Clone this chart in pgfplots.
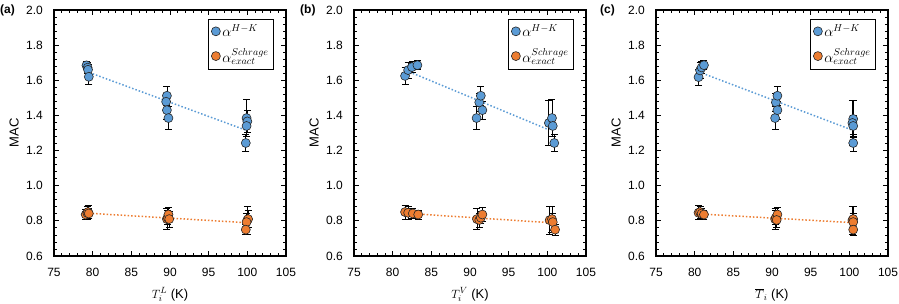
\documentclass[border=0pt]{standalone}
\usepackage{fontspec}
\setmainfont{Liberation Sans}
\usepackage{pgfplots}
\usepackage{pgfplotstable}
\pgfplotsset{compat=1.18}
\definecolor{cblue}{HTML}{5B9BD5}
\definecolor{corange}{HTML}{ED7D31}
\pgfplotsset{
  panel/.style={
    scale only axis, width=232pt, height=246pt,
    anchor=south west,
    xmin=75, xmax=105, ymin=0.6, ymax=2.0,
    xtick={75,80,...,105}, ytick={0.6,0.8,...,2.0},
    minor x tick num=4, minor y tick num=4,
    tick align=inside, xtick pos=both, ytick pos=both,
    xticklabel pos=lower, yticklabel pos=left,
    major tick length=5pt, minor tick length=3pt,
    axis line style={line width=1.4pt},
    every tick/.style={black, line width=0.8pt},
    /pgf/number format/assume math mode=true,
    yticklabel style={/pgf/number format/.cd, fixed, fixed zerofill, precision=1},
    xticklabel style={/pgf/number format/1000 sep={}},
    yticklabel shift=7pt, xticklabel shift=8pt,
    ylabel=MAC,
    ylabel style={at={(axis description cs:-0.172,0.5)}, anchor=center, rotate=0,
      font=\fontsize{13}{15}\selectfont},
    xlabel style={at={(axis description cs:0.5,-0.157)}, anchor=center,
      font=\fontsize{13}{15}\selectfont},
    legend style={at={(rel axis cs:1,1)}, anchor=north east, xshift=-12pt, yshift=-9pt,
      draw=black, line width=0.8pt, row sep=6pt, inner sep=3pt,
      font=\fontsize{14}{16}\selectfont, legend cell align=left},
  },
  pts/.style={only marks, mark=*, mark size=4.5pt,
    mark options={fill=#1, draw=black!85, line width=0.6pt},
    error bars/.cd, y dir=both, y explicit,
    error bar style={black, line width=0.8pt},
    error mark options={rotate=90, black, mark size=3.5pt, line width=0.8pt}},
  trend/.style={#1, dotted, line width=1.5pt, forget plot},
}
\begin{document}
\fontsize{12}{14.4}\selectfont
\begin{tikzpicture}
\useasboundingbox (0,0) rectangle (899pt,304pt);
% ---------------- (a)
\begin{axis}[panel, at={(54pt,48pt)}, xlabel={$T_i^{L}$ (K)}]
\addplot[trend=cblue] coordinates {(80,1.637) (99.7,1.318)};
\addplot[trend=corange] coordinates {(80,0.842) (99.7,0.790)};
\addplot[pts=cblue] table[x=x,y=y,y error=e] {
x y e
79.2 1.685 0.025
79.35 1.672 0.030
79.4 1.660 0.030
79.5 1.620 0.045
89.6 1.512 0.055
89.5 1.478 0.050
89.6 1.430 0.050
89.8 1.385 0.065
99.9 1.385 0.105
100.0 1.366 0.060
99.9 1.340 0.060
99.8 1.243 0.047
};
\addplot[pts=corange] table[x=x,y=y,y error=e] {
x y e
79.1 0.836 0.030
79.3 0.845 0.035
79.4 0.850 0.038
79.5 0.842 0.030
89.6 0.810 0.059
89.7 0.818 0.040
89.8 0.836 0.038
89.9 0.810 0.045
100.0 0.804 0.080
100.1 0.810 0.050
99.9 0.793 0.050
99.8 0.750 0.027
};
\legend{$\alpha^{H-K}$, $\alpha^{Schrage}_{exact}$}
\end{axis}
% ---------------- (b)
\begin{axis}[panel, at={(354pt,48pt)}, xlabel={$T_i^{V}$ (K)}]
\addplot[trend=cblue] coordinates {(82.6,1.640) (100.2,1.318)};
\addplot[trend=corange] coordinates {(83.5,0.838) (100.2,0.790)};
\addplot[pts=cblue] table[x=x,y=y,y error=e] {
x y e
81.6 1.625 0.050
82.0 1.658 0.045
82.5 1.675 0.030
83.2 1.686 0.025
90.85 1.385 0.065
91.2 1.474 0.050
91.4 1.512 0.055
91.6 1.430 0.050
100.2 1.357 0.130
100.6 1.385 0.105
100.7 1.340 0.060
100.9 1.243 0.047
};
\addplot[pts=corange] table[x=x,y=y,y error=e] {
x y e
81.6 0.850 0.040
82.0 0.846 0.035
82.6 0.842 0.030
83.3 0.836 0.025
90.9 0.810 0.060
91.2 0.805 0.040
91.4 0.818 0.035
91.6 0.836 0.038
100.3 0.804 0.080
100.6 0.810 0.075
100.7 0.793 0.050
101.0 0.750 0.030
};
\legend{$\alpha^{H-K}$, $\alpha^{Schrage}_{exact}$}
\end{axis}
% ---------------- (c)
\begin{axis}[panel, at={(656pt,48pt)}, xlabel={$\overline{T}_i$ (K)}]
\addplot[trend=cblue] coordinates {(81,1.640) (100.3,1.318)};
\addplot[trend=corange] coordinates {(81.2,0.838) (100.3,0.790)};
\addplot[pts=cblue] table[x=x,y=y,y error=e] {
x y e
80.5 1.618 0.045
80.7 1.656 0.045
80.9 1.673 0.035
81.2 1.686 0.025
90.4 1.385 0.065
90.5 1.474 0.050
90.7 1.512 0.055
90.7 1.430 0.050
100.5 1.380 0.105
100.4 1.357 0.130
100.5 1.340 0.060
100.5 1.243 0.047
};
\addplot[pts=corange] table[x=x,y=y,y error=e] {
x y e
80.5 0.846 0.040
80.7 0.850 0.035
80.9 0.842 0.030
81.2 0.836 0.025
90.4 0.810 0.060
90.5 0.818 0.040
90.7 0.836 0.038
90.6 0.805 0.040
100.4 0.804 0.080
100.5 0.810 0.075
100.5 0.793 0.050
100.5 0.750 0.030
};
\legend{$\alpha^{H-K}$, $\alpha^{Schrage}_{exact}$}
\end{axis}
\node[anchor=west, font=\bfseries\fontsize{12}{14}\selectfont, inner sep=0pt] at (0pt,294pt) {(a)};
\node[anchor=west, font=\bfseries\fontsize{12}{14}\selectfont, inner sep=0pt] at (300pt,294pt) {(b)};
\node[anchor=west, font=\bfseries\fontsize{12}{14}\selectfont, inner sep=0pt] at (600pt,294pt) {(c)};
\end{tikzpicture}
\end{document}
